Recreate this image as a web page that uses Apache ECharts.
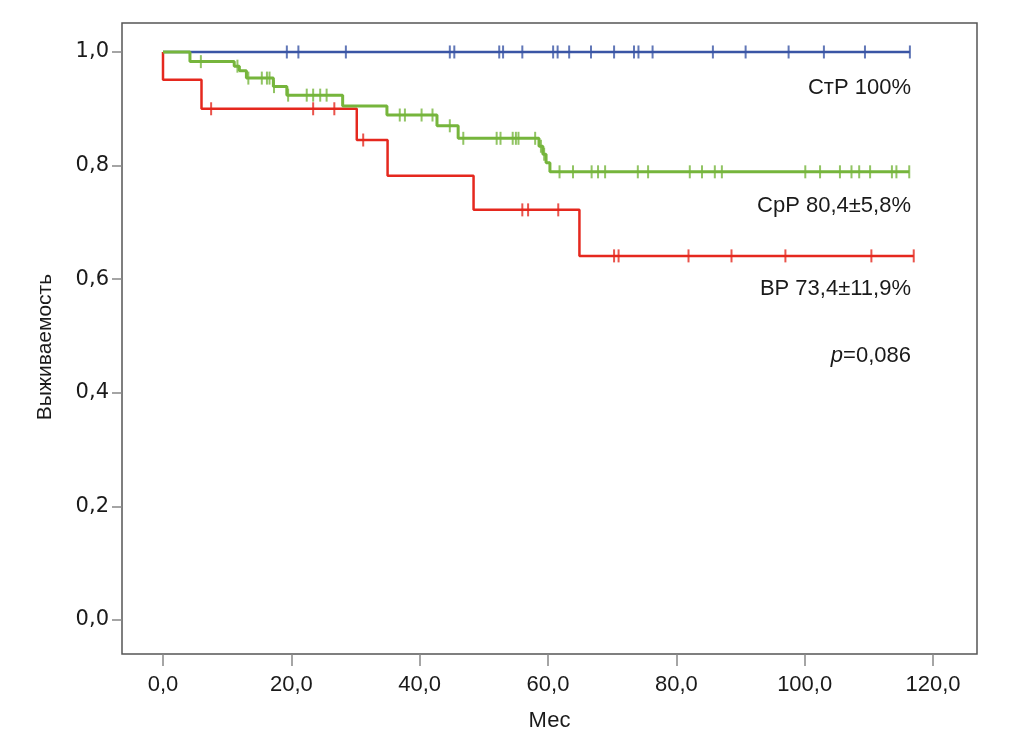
<!DOCTYPE html>
<html>
<head>
<meta charset="utf-8">
<script src="https://cdn.jsdelivr.net/npm/echarts@6/dist/echarts.min.js"></script>
<style>html,body{margin:0;padding:0;background:#fff;}#c{width:1013px;height:749px;}</style>
</head>
<body>
<div id="c"></div>
<script>
// ---- data ----
var xTicks = [0, 20, 40, 60, 80, 100, 120];
var yTicks = [0, 0.2, 0.4, 0.6, 0.8, 1.0];

// СтР (blue)
var blueTimes = [0, 116.4];
var blueSurv  = [1.0, 1.0];
var blueCens  = [19.3, 21.1, 28.5, 44.7, 45.4, 52.4, 53.0, 56.0, 60.8, 61.5, 63.3, 66.7, 70.3, 73.4, 74.1, 76.3, 85.7, 90.8, 97.5, 103.0, 109.4, 116.4];

// СрР (green)
var greenTimes = [0, 4.2, 11.1, 11.9, 13.0, 17.2, 19.3, 28.0, 34.9, 42.7, 46.0, 58.6, 59.2, 59.7, 60.3, 116.3];
var greenSurv  = [1.0, 0.983, 0.975, 0.967, 0.954, 0.939, 0.924, 0.905, 0.889, 0.870, 0.848, 0.834, 0.820, 0.805, 0.789, 0.789];
var greenCens  = [5.9, 11.6, 13.3, 15.4, 16.2, 16.6, 17.3, 19.5, 22.4, 23.4, 24.5, 25.5, 36.9, 37.7, 40.3, 42.0, 44.7, 46.8, 52.0, 52.6, 54.5, 55.0, 55.4, 58.0, 58.9, 59.4, 61.8, 63.9, 66.8, 67.8, 68.9, 74.0, 75.6, 82.1, 84.0, 86.0, 87.1, 100.1, 102.4, 105.5, 107.3, 108.5, 110.2, 113.6, 114.3, 116.3];

// ВР (red)
var redTimes = [0, 0, 6.0, 30.2, 35.0, 48.4, 64.9, 117.0];
var redSurv  = [1.0, 0.951, 0.90, 0.845, 0.782, 0.722, 0.641, 0.641];
var redCens  = [7.5, 23.4, 26.7, 31.2, 56.0, 56.9, 61.6, 70.3, 71.0, 81.9, 88.6, 97.0, 110.4, 117.0];

var labels = ['СтР 100%', 'СрР 80,4±5,8%', 'ВР 73,4±11,9%'];
var pText = '0,086';

// ---- helpers ----
function pairs(t, s) { return t.map(function (v, i) { return [v, s[i]]; }); }
function survAt(t, times, surv) {
  var v = surv[0];
  for (var i = 0; i < times.length; i++) { if (times[i] <= t) v = surv[i]; }
  return v;
}
function cens(c, times, surv) { return c.map(function (t) { return [t, survAt(t, times, surv)]; }); }
function fmt(v) { return v.toFixed(1).replace('.', ','); }

var C_BLUE = '#3a55a5', C_GREEN = '#76b53c', C_RED = '#e5281e';
var TXT = '#1a1a1a';
var tickSym = 'rect';

var chart = echarts.init(document.getElementById('c'));
chart.setOption({
  animation: false,
  backgroundColor: '#fff',
  grid: { left: 122, right: 36, top: 23, bottom: 95, show: true, borderColor: '#555', borderWidth: 1.5, backgroundColor: 'transparent' },
  xAxis: {
    type: 'value', min: -6.39, max: 126.86,
    axisLine: { show: false, onZero: false },
    splitLine: { show: false },
    axisTick: { show: true, inside: false, customValues: xTicks, length: 12, lineStyle: { color: '#888', width: 1.5 } },
    axisLabel: { customValues: xTicks, formatter: fmt, margin: 20, fontSize: 22, color: TXT, fontFamily: 'Liberation Sans' },
    name: 'Мес', nameLocation: 'middle', nameGap: 56,
    nameTextStyle: { fontSize: 22, color: TXT, fontFamily: 'Liberation Sans' }
  },
  yAxis: {
    type: 'value', min: -0.0599, max: 1.051,
    axisLine: { show: false, onZero: false },
    splitLine: { show: false },
    axisTick: { show: true, inside: false, customValues: yTicks, length: 10, lineStyle: { color: '#888', width: 1.5 } },
    axisLabel: { customValues: yTicks, formatter: fmt, margin: 13, fontSize: 21, color: TXT, fontFamily: 'DejaVu Sans' }
  },
  graphic: [
    { type: 'text', x: 45, y: 347, rotation: Math.PI / 2, style: { text: 'Выживаемость', fontSize: 21, fill: TXT, fontFamily: 'Liberation Sans', align: 'center', verticalAlign: 'middle' } },
    { type: 'text', x: 911, y: 88, style: { text: labels[0], fontSize: 22, fill: TXT, fontFamily: 'Liberation Sans', align: 'right', verticalAlign: 'middle' } },
    { type: 'text', x: 911, y: 206, style: { text: labels[1], fontSize: 22, fill: TXT, fontFamily: 'Liberation Sans', align: 'right', verticalAlign: 'middle' } },
    { type: 'text', x: 911, y: 289, style: { text: labels[2], fontSize: 22, fill: TXT, fontFamily: 'Liberation Sans', align: 'right', verticalAlign: 'middle' } },
    { type: 'text', x: 911, y: 356, style: { text: '{i|p}=' + pText, rich: { i: { fontStyle: 'italic', fontSize: 22, fill: TXT, fontFamily: 'Liberation Sans' } }, fontSize: 22, fill: TXT, fontFamily: 'Liberation Sans', align: 'right', verticalAlign: 'middle' } }
  ],
  series: [
    { type: 'line', step: 'end', data: pairs(blueTimes, blueSurv), showSymbol: false, lineStyle: { color: C_BLUE, width: 2.5 }, z: 2 },
    { type: 'scatter', data: cens(blueCens, blueTimes, blueSurv), symbol: tickSym, symbolSize: [2, 13], itemStyle: { color: C_BLUE }, z: 2 },
    { type: 'line', step: 'end', data: pairs(redTimes, redSurv), showSymbol: false, lineStyle: { color: C_RED, width: 2.5 }, z: 3 },
    { type: 'scatter', data: cens(redCens, redTimes, redSurv), symbol: tickSym, symbolSize: [2, 13], itemStyle: { color: C_RED }, z: 3 },
    { type: 'line', step: 'end', data: pairs(greenTimes, greenSurv), showSymbol: false, lineStyle: { color: C_GREEN, width: 3 }, z: 4 },
    { type: 'scatter', data: cens(greenCens, greenTimes, greenSurv), symbol: tickSym, symbolSize: [2, 13], itemStyle: { color: C_GREEN }, z: 4 }
  ]
});
</script>
</body>
</html>
